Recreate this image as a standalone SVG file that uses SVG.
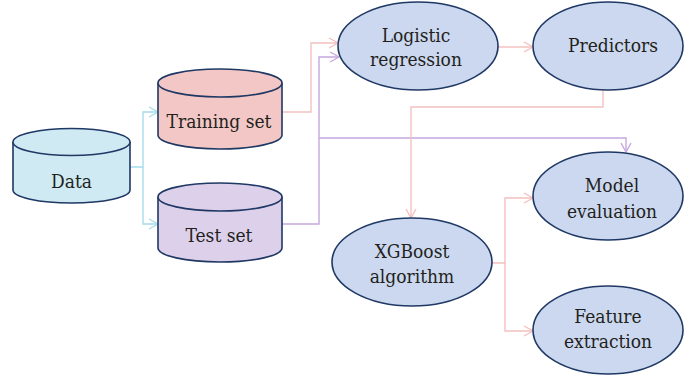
<svg xmlns="http://www.w3.org/2000/svg" width="684" height="379" viewBox="0 0 684 379">
  <defs>
    <style>
      .node { stroke: #1f3864; stroke-width: 1.6; }
      .data { fill: #cfeaf3; }
      .train { fill: #f2c7c5; }
      .test { fill: #ddd0eb; }
      .proc { fill: #cbd8ef; }
      .lbl { font-family: "DejaVu Serif Condensed", "DejaVu Serif", serif; font-stretch: condensed; font-size: 19px; fill: #231f20; text-anchor: middle; }
      .c { fill: none; stroke-width: 1.4; }
      .blue { stroke: #a7dceb; }
      .pink { stroke: #f4c0c0; }
      .purple { stroke: #c5a8e0; }
    </style>
    <marker id="ah-blue" markerWidth="12" markerHeight="12" refX="10" refY="6" orient="auto" markerUnits="userSpaceOnUse">
      <path d="M1,1 L10,6 L1,11" fill="none" stroke="#a7dceb" stroke-width="1.4"/>
    </marker>
    <marker id="ah-pink" markerWidth="12" markerHeight="12" refX="10" refY="6" orient="auto" markerUnits="userSpaceOnUse">
      <path d="M1,1 L10,6 L1,11" fill="none" stroke="#f4c0c0" stroke-width="1.4"/>
    </marker>
    <marker id="ah-purple" markerWidth="12" markerHeight="12" refX="10" refY="6" orient="auto" markerUnits="userSpaceOnUse">
      <path d="M1,1 L10,6 L1,11" fill="none" stroke="#c5a8e0" stroke-width="1.4"/>
    </marker>
  </defs>

  <g id="connectors">
    <!-- Data splits into training and test sets -->
    <path class="c blue" d="M130,167 H143 V112 H158" marker-end="url(#ah-blue)"/>
    <path class="c blue" d="M143,167 V224 H158" marker-end="url(#ah-blue)"/>
    <!-- Training set to logistic regression -->
    <path class="c pink" d="M282,112 H311 V43 H338" marker-end="url(#ah-pink)"/>
    <!-- Test set to logistic regression and model evaluation -->
    <path class="c purple" d="M282,224 H319 V57 H339" marker-end="url(#ah-purple)"/>
    <path class="c purple" d="M319,138 H626 V152" marker-end="url(#ah-purple)"/>
    <!-- Logistic regression to predictors -->
    <path class="c pink" d="M498,47 H533" marker-end="url(#ah-pink)"/>
    <!-- Predictors to XGBoost -->
    <path class="c pink" d="M603,90 V107 H411 V218" marker-end="url(#ah-pink)"/>
    <!-- XGBoost to outputs -->
    <path class="c pink" d="M492,263 H505 V198 H533" marker-end="url(#ah-pink)"/>
    <path class="c pink" d="M505,263 V331 H533" marker-end="url(#ah-pink)"/>
  </g>

  <g id="data">
    <path class="node data" d="M13,142 V190 A58.5,13 0 0 0 130,190 V142"/>
    <ellipse class="node data" cx="71.5" cy="142" rx="58.5" ry="13.5"/>
    <text class="lbl" x="71.5" y="188">Data</text>
  </g>

  <g id="training-set">
    <path class="node train" d="M158,83 V135 A62,14 0 0 0 282,135 V83"/>
    <ellipse class="node train" cx="220" cy="83" rx="62" ry="14"/>
    <text class="lbl" x="219" y="128">Training set</text>
  </g>

  <g id="test-set">
    <path class="node test" d="M158,197 V248 A62,14 0 0 0 282,248 V197"/>
    <ellipse class="node test" cx="220" cy="197" rx="62" ry="14"/>
    <text class="lbl" x="219" y="242">Test set</text>
  </g>

  <g id="logistic-regression">
    <ellipse class="node proc" cx="418" cy="46" rx="80" ry="44"/>
    <text class="lbl" x="416" y="42">Logistic</text>
    <text class="lbl" x="416" y="66">regression</text>
  </g>

  <g id="predictors">
    <ellipse class="node proc" cx="608" cy="46" rx="75" ry="44"/>
    <text class="lbl" x="613" y="52">Predictors</text>
  </g>

  <g id="xgboost">
    <ellipse class="node proc" cx="412" cy="262" rx="80" ry="44"/>
    <text class="lbl" x="412" y="258">XGBoost</text>
    <text class="lbl" x="412" y="283">algorithm</text>
  </g>

  <g id="model-evaluation">
    <ellipse class="node proc" cx="608" cy="196" rx="75" ry="44"/>
    <text class="lbl" x="612" y="192">Model</text>
    <text class="lbl" x="612" y="218">evaluation</text>
  </g>

  <g id="feature-extraction">
    <ellipse class="node proc" cx="608" cy="330" rx="75" ry="44"/>
    <text class="lbl" x="608" y="323">Feature</text>
    <text class="lbl" x="608" y="348">extraction</text>
  </g>
</svg>
